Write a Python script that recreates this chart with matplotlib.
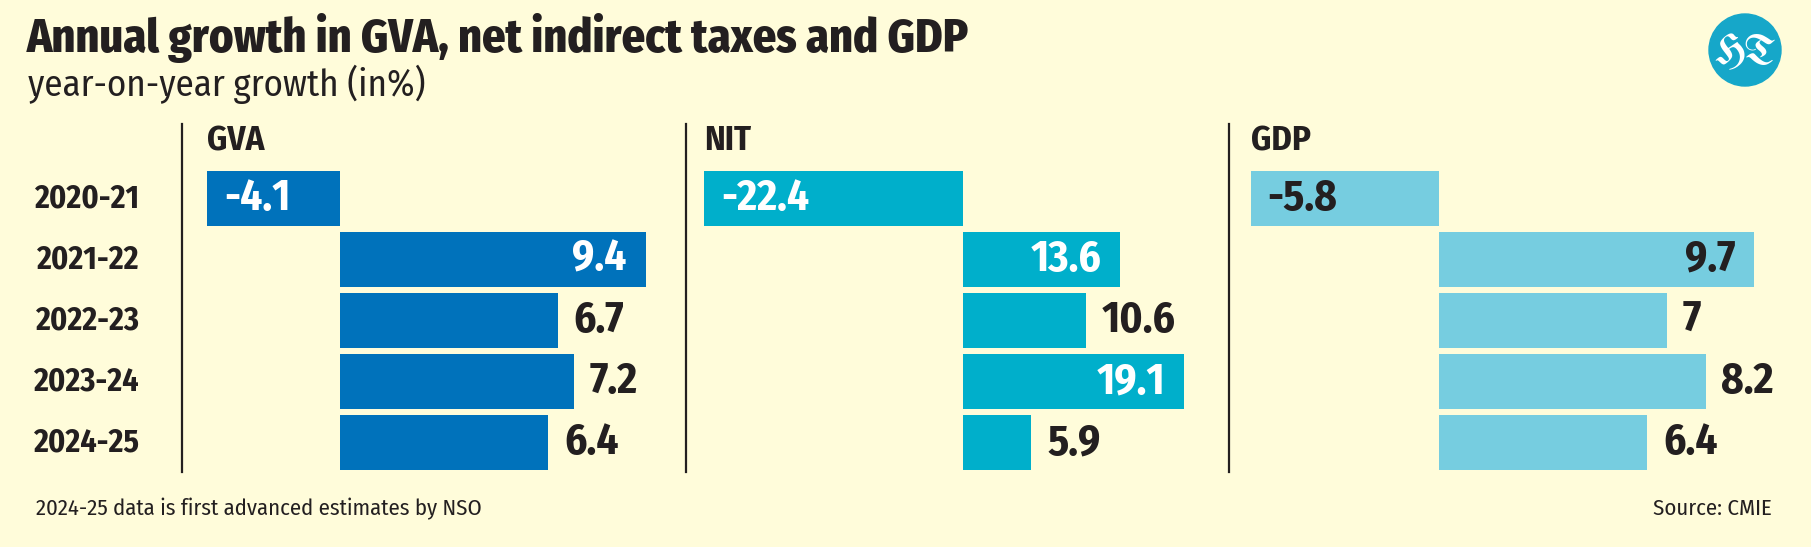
import matplotlib
matplotlib.use("Agg")
import matplotlib.pyplot as plt
from matplotlib.patches import Circle

# data
years = ["2020-21", "2021-22", "2022-23", "2023-24", "2024-25"]
gva = [-4.1, 9.4, 6.7, 7.2, 6.4]
nit = [-22.4, 13.6, 10.6, 19.1, 5.9]
gdp = [-5.8, 9.7, 7, 8.2, 6.4]
panel_names = ["GVA", "NIT", "GDP"]

# where each value label sits: inside-left, inside-right or outside
gva_pos = ["inl", "inr", "out", "out", "out"]
nit_pos = ["inl", "inr", "out", "inr", "out"]
gdp_pos = ["inl", "inr", "out", "out", "out"]

W, H = 1811, 547
BG = "#FFFCDA"
INK = "#231F20"
FONT = ["Fira Sans Condensed", "DejaVu Sans"]
plt.rcParams["font.family"] = FONT

fig = plt.figure(figsize=(W / 100, H / 100), dpi=100, facecolor=BG)

# pixel geometry of the panels
top_px, bot_px = 124, 472
row0, step = 198.5, 61.1
ylo = (bot_px - row0) / step
yhi = (top_px - row0) / step

panels = [
    # name, values, colour, inside text colour, label places, left px, right px, zero px, px per unit
    (panel_names[0], gva, "#0072BB", "white", gva_pos, 182, 660, 340, 32.5),
    (panel_names[1], nit, "#00AFCB", "white", nit_pos, 686, 1200, 963, 11.57),
    (panel_names[2], gdp, "#76CDE0", INK, gdp_pos, 1229, 1800, 1439, 32.5),
]

PX = 72 / 100  # points per pixel

for name, vals, col, incol, places, L, R, zero, scale in panels:
    ax = fig.add_axes([L / W, 1 - bot_px / H, (R - L) / W, (bot_px - top_px) / H])
    ax.set_facecolor("none")
    ax.barh(range(len(years)), vals, height=0.9, color=col)
    ax.set_xlim((L - zero) / scale, (R - zero) / scale)
    ax.set_ylim(ylo, yhi)
    for s in ["top", "right", "bottom"]:
        ax.spines[s].set_visible(False)
    ax.spines["left"].set_linewidth(1.6)
    ax.spines["left"].set_color(INK)
    ax.set_xticks([])
    ax.set_yticks([])

    ax.text(min(vals), -0.94, name, ha="left", va="center", fontsize=25,
            fontweight="bold", color=INK)

    for i, (v, p) in enumerate(zip(vals, places)):
        lbl = f"{v:g}"
        if p == "inl":
            ax.annotate(lbl, (v, i), xytext=(17 * PX, 0), textcoords="offset points",
                        ha="left", va="center", fontsize=31, fontweight="bold", color=incol)
        elif p == "inr":
            ax.annotate(lbl, (v, i), xytext=(-19 * PX, 0), textcoords="offset points",
                        ha="right", va="center", fontsize=31, fontweight="bold", color=incol)
        else:
            ax.annotate(lbl, (v, i), xytext=(16 * PX, 0), textcoords="offset points",
                        ha="left", va="center", fontsize=31, fontweight="bold", color=INK)

# year labels on the left
for i, y in enumerate(years):
    fig.text(139 / W, 1 - (row0 + i * step) / H, y, ha="right", va="center",
             fontsize=23, fontweight="bold", color=INK)

# titles
title = fig.text(27 / W, 1 - 52 / H, "Annual growth in GVA, net indirect taxes and GDP",
                 ha="left", va="baseline", fontsize=30, fontweight="heavy", color=INK)
sub = fig.text(28 / W, 1 - 96 / H, "year-on-year growth (in%)", ha="left",
               va="baseline", fontsize=24, fontweight="normal", color=INK)
note = fig.text(36 / W, 1 - 515 / H, "2024-25 data is first advanced estimates by NSO",
                ha="left", va="baseline", fontsize=16, color=INK)

fig.canvas.draw()
r = fig.canvas.get_renderer()
for t, target in [(title, 943), (sub, 398), (note, 447)]:
    w = t.get_window_extent(r).width
    t.set_fontsize(t.get_fontsize() * target / w)

fig.text(1772 / W, 1 - 515 / H, "Source: CMIE", ha="right", va="baseline",
         fontsize=note.get_fontsize(), color=INK)

# HT logo
lax = fig.add_axes([(1745 - 40) / W, 1 - (50 + 40) / H, 80 / W, 80 / H])
lax.set_xlim(0, 1)
lax.set_ylim(0, 1)
lax.axis("off")
lax.add_patch(Circle((0.5, 0.5), 0.45, color="#16A7C9"))
lax.text(0.5, 0.48, "HT", ha="center", va="center", color="white", fontsize=30,
         fontweight="bold", family=["UnifrakturMaguntia", "UnifrakturCook", "DejaVu Serif"])

fig.savefig("out.png", dpi=100, facecolor=BG)
